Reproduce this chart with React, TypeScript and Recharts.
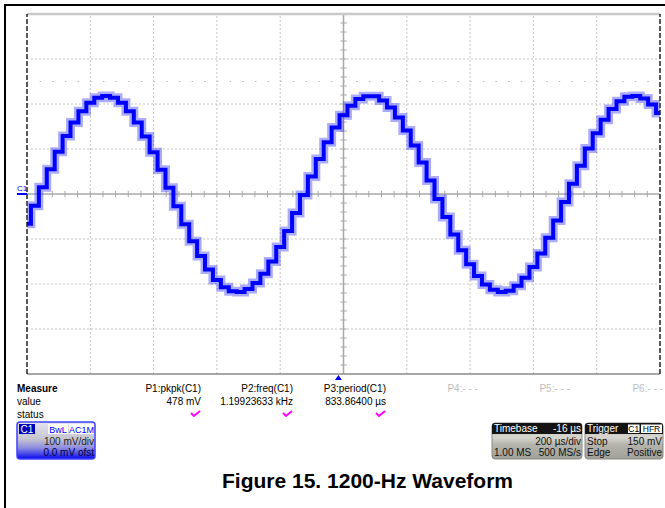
import React from 'react';
import { LineChart, Line, XAxis, YAxis, ReferenceLine, ReferenceDot } from 'recharts';

// time (µs from left edge of screen, 200 µs/div) and channel C1 voltage (mV, 100 mV/div)
const timeUs = [
  0, 25, 50, 75, 100, 125, 150, 175, 200, 225,
  250, 275, 300, 325, 350, 375, 400, 425, 450, 475,
  500, 525, 550, 575, 600, 625, 650, 675, 700, 725,
  750, 775, 800, 825, 850, 875, 900, 925, 950, 975,
  1000, 1025, 1050, 1075, 1100, 1125, 1150, 1175, 1200, 1225,
  1250, 1275, 1300, 1325, 1350, 1375, 1400, 1425, 1450, 1475,
  1500, 1525, 1550, 1575, 1600, 1625, 1650, 1675, 1700, 1725,
  1750, 1775, 1800, 1825, 1850, 1875, 1900, 1925, 1950, 1975,
  2000,
];
const voltageMv = [
  -66, -26, 15, 55, 94, 129, 159, 184, 203, 214,
  218, 214, 203, 184, 159, 128, 93, 54, 14, -27,
  -67, -105, -138, -168, -191, -207, -216, -218, -211, -198,
  -177, -150, -118, -82, -42, -2, 39, 78, 115, 148,
  175, 196, 211, 217, 217, 208, 192, 170, 141, 108,
  70, 30, -11, -51, -90, -125, -156, -182, -201, -213,
  -218, -215, -204, -186, -162, -132, -97, -59, -18, 23,
  63, 101, 135, 165, 189, 206, 216, 218, 212, 199,
  180,
];

const xGridUs = [200, 400, 600, 800, 1200, 1400, 1600, 1800];
const yGridMv = [-300, -200, -100, 100, 200, 300];
const xMinorUs = Array.from({ length: 49 }, (_, i) => (i + 1) * 40);
const yMinorMv = Array.from({ length: 39 }, (_, i) => -380 + i * 20);

const measureLabels = ['P1:pkpk(C1)', 'P2:freq(C1)', 'P3:period(C1)', 'P4:- - -', 'P5:- - -', 'P6:- - -'];
const measureValues = ['478 mV', '1.19923633 kHz', '833.86400 µs', '', '', ''];
const measureOk = [true, true, true, false, false, false];

const data = timeUs.map((t, i) => ({ t, v: voltageMv[i] }));

const FONT = "'Liberation Sans', Arial, sans-serif";
const colEnds = [201, 293, 386, 478, 570, 663];

export default function App() {
  return (
    <div style={{ position: 'absolute', left: 0, top: 0, width: 665, height: 508, background: '#fff', overflow: 'hidden', fontFamily: FONT }}>
      <div style={{ position: 'absolute', left: 0, top: 0 }}>
        <LineChart width={665} height={508} data={data} margin={{ top: 14, right: 5, bottom: 134, left: 27 }}>
          <XAxis type="number" dataKey="t" domain={[0, 2000]} hide allowDataOverflow />
          <YAxis type="number" domain={[-400, 400]} hide allowDataOverflow />
          {xGridUs.map((x) => (
            <ReferenceLine key={'gx' + x} x={x} stroke="#c4c4c4" strokeDasharray="2 2" strokeWidth={1} />
          ))}
          {yGridMv.map((y) => (
            <ReferenceLine key={'gy' + y} y={y} stroke="#c4c4c4" strokeDasharray="2 2" strokeWidth={1} />
          ))}
          <ReferenceLine y={250} stroke="#b8b8b8" strokeDasharray="1.5 11.16" strokeWidth={1.2} />
          <ReferenceLine x={1000} stroke="#a8a8a8" strokeWidth={1.5} />
          <ReferenceLine y={0} stroke="#a8a8a8" strokeWidth={1.5} />
          {xMinorUs.map((x) => (
            <ReferenceLine key={'tx' + x} segment={[{ x, y: -7 }, { x, y: 7 }]} stroke="#a8a8a8" strokeWidth={1} />
          ))}
          {yMinorMv.map((y) => (
            <ReferenceLine key={'ty' + y} segment={[{ x: 990, y }, { x: 1010, y }]} stroke="#a8a8a8" strokeWidth={1} />
          ))}
          <ReferenceLine y={400} stroke="#c8c8c8" strokeWidth={2.5} />
          <ReferenceLine y={-400} stroke="#8a8a8a" strokeWidth={1.5} />
          <ReferenceLine x={0} stroke="#222" strokeDasharray="5 2" strokeWidth={1.5} />
          <ReferenceLine x={2000} stroke="#222" strokeDasharray="5 2" strokeWidth={1.5} />
          <Line dataKey="v" type="step" stroke="#3030ff" strokeOpacity={0.4} strokeWidth={9} dot={false} isAnimationActive={false} />
          <Line dataKey="v" type="step" stroke="#0000ff" strokeWidth={4} dot={false} isAnimationActive={false} />
          <ReferenceDot
            x={0}
            y={0}
            ifOverflow="visible"
            shape={(p: any) => (
              <g>
                <line x1={p.cx - 10} x2={p.cx} y1={p.cy} y2={p.cy} stroke="#0000ff" strokeWidth={2} />
                <text x={p.cx - 10} y={p.cy - 3} fontSize={8} fill="#0000ff" fontFamily={FONT}>C1</text>
              </g>
            )}
          />
          <ReferenceDot
            x={984}
            y={-400}
            ifOverflow="visible"
            shape={(p: any) => (
              <polygon points={`${p.cx},${p.cy + 1} ${p.cx - 3.5},${p.cy + 6} ${p.cx + 3.5},${p.cy + 6}`} fill="#0000ff" />
            )}
          />
        </LineChart>
      </div>
      <svg width={665} height={508} style={{ position: 'absolute', left: 0, top: 0, pointerEvents: 'none' }} fontFamily={FONT}>
        <defs>
          <linearGradient id="c1grad" x1="0" y1="0" x2="0" y2="1">
            <stop offset="0" stopColor="#e4e4f0" />
            <stop offset="0.45" stopColor="#c6c6d0" />
            <stop offset="0.7" stopColor="#8c8ce0" />
            <stop offset="1" stopColor="#0808f0" />
          </linearGradient>
          <linearGradient id="greygrad" x1="0" y1="0" x2="0" y2="1">
            <stop offset="0" stopColor="#c0c0b8" />
            <stop offset="0.4" stopColor="#d6d6ce" />
            <stop offset="0.6" stopColor="#b4b4ac" />
            <stop offset="1" stopColor="#a0a098" />
          </linearGradient>
        </defs>
        <path d="M5 520 V5 H665" stroke="#000" strokeWidth={2} fill="none" />

        <text x={17} y={392} fontSize={10} fontWeight="bold" fill="#000">Measure</text>
        <text x={17} y={405} fontSize={10} fill="#000">value</text>
        <text x={17} y={418} fontSize={10} fill="#000">status</text>
        {measureLabels.map((lab, i) => (
          <text key={'ml' + i} x={colEnds[i]} y={392} fontSize={10} textAnchor="end" fill={measureOk[i] ? '#000' : '#bdbdbd'}>{lab}</text>
        ))}
        {measureValues.map((val, i) => (
          <text key={'mv' + i} x={colEnds[i]} y={405} fontSize={10} textAnchor="end" fill="#000">{val}</text>
        ))}
        {measureOk.map((ok, i) =>
          ok ? (
            <path key={'ck' + i} d={`M${colEnds[i] - 10} 413 L${colEnds[i] - 7} 416 L${colEnds[i] - 1} 411`} stroke="#ff00ff" strokeWidth={2} fill="none" />
          ) : null
        )}

        {/* C1 channel box */}
        <rect x={17} y={422} width={78} height={37} rx={3} fill="url(#c1grad)" stroke="#4040ff" strokeWidth={1.5} />
        <rect x={19} y={424} width={16} height={10} fill="#0000b8" />
        <text x={20.5} y={433} fontSize={10} fill="#fff">C1</text>
        <rect x={48} y={424} width={20} height={10} fill="#fff" />
        <text x={58} y={432.5} fontSize={9} fill="#0000ff" textAnchor="middle">BwL</text>
        <rect x={69} y={424} width={25} height={10} fill="#fff" />
        <text x={81.5} y={432.5} fontSize={9} fill="#0000ff" textAnchor="middle">AC1M</text>
        <text x={94} y={445} fontSize={10} fill="#222" textAnchor="end">100 mV/div</text>
        <text x={94} y={456} fontSize={10} fill="#000040" textAnchor="end">0.0 mV ofst</text>

        {/* Timebase box */}
        <rect x={492} y={423} width={90} height={36} rx={3} fill="url(#greygrad)" stroke="#8a8a84" strokeWidth={1} />
        <path d="M492 434 V426 Q492 423 495 423 H579 Q582 423 582 426 V434 Z" fill="#141414" />
        <text x={494} y={432} fontSize={10} fill="#fff">Timebase</text>
        <text x={581} y={432} fontSize={10} fill="#fff" textAnchor="end">-16 µs</text>
        <text x={581} y={445} fontSize={10} fill="#111" textAnchor="end">200 µs/div</text>
        <text x={494} y={456} fontSize={10} fill="#111">1.00 MS</text>
        <text x={581} y={456} fontSize={10} fill="#111" textAnchor="end">500 MS/s</text>

        {/* Trigger box */}
        <rect x={585} y={423} width={78} height={36} rx={3} fill="url(#greygrad)" stroke="#8a8a84" strokeWidth={1} />
        <path d="M585 434 V426 Q585 423 588 423 H660 Q663 423 663 426 V434 Z" fill="#141414" />
        <text x={587} y={432} fontSize={10} fill="#fff">Trigger</text>
        <rect x={628} y={424.5} width={11.5} height={8.5} fill="#fff" />
        <text x={633.7} y={432} fontSize={8.5} fill="#000" textAnchor="middle">C1</text>
        <rect x={641} y={424.5} width={21} height={8.5} fill="#fff" />
        <text x={651.5} y={432} fontSize={8.5} fill="#000" textAnchor="middle">HFR</text>
        <text x={587} y={445} fontSize={10} fill="#111">Stop</text>
        <text x={662} y={445} fontSize={10} fill="#111" textAnchor="end">150 mV</text>
        <text x={587} y={456} fontSize={10} fill="#111">Edge</text>
        <text x={662} y={456} fontSize={10} fill="#111" textAnchor="end">Positive</text>

        <text x={367.5} y={488} fontSize={21} fontWeight="bold" fill="#000" textAnchor="middle">Figure 15. 1200-Hz Waveform</text>
      </svg>
    </div>
  );
}
